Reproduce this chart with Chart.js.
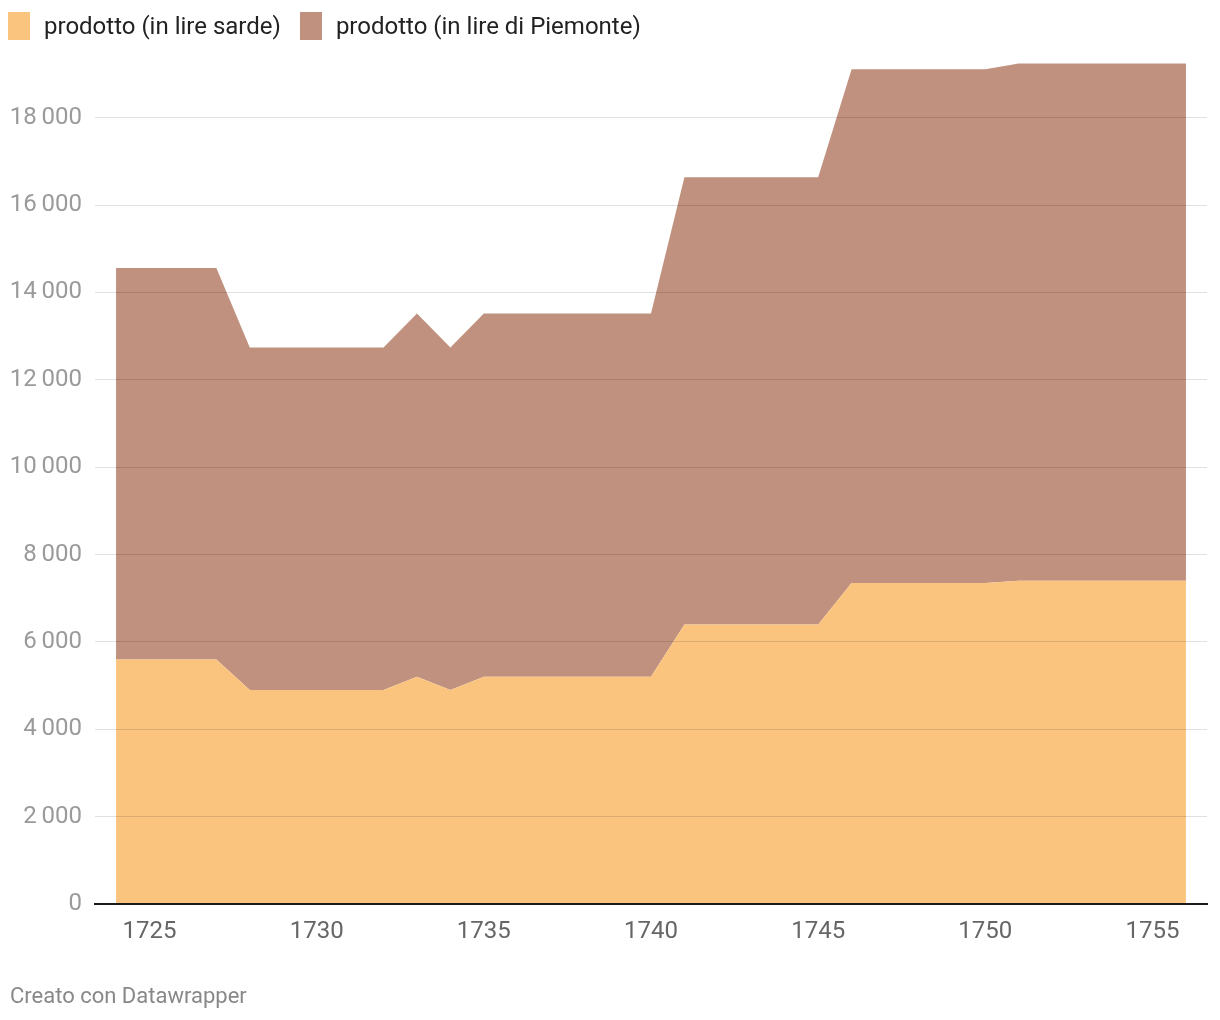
<!DOCTYPE html>
<html>
<head>
<meta charset="utf-8">
<script src="https://cdn.jsdelivr.net/npm/chart.js@4"></script>
<style>
  body { margin: 0; background: #fff; font-family: Roboto, sans-serif; }
  #wrap { position: relative; width: 1220px; height: 1020px; }
  #chart { position: absolute; left: 0; top: 0; }
  .legend { position: absolute; top: 12px; left: 8px; display: flex; font-size: 24px; color: #222; }
  .legend span { display: flex; align-items: center; margin-right: 19px; }
  .legend i { display: inline-block; width: 22px; height: 28px; margin-right: 14px; }
  .footer { position: absolute; left: 10px; top: 983px; font-size: 22px; color: #888; }
</style>
</head>
<body>
<div id="wrap">
  <canvas id="chart" width="1220" height="1020"></canvas>
  <div class="legend">
    <span><i style="background:#fac47e"></i>prodotto (in lire sarde)</span>
    <span><i style="background:#c0917f"></i>prodotto (in lire di Piemonte)</span>
  </div>
  <div class="footer">Creato con Datawrapper</div>
</div>
<script>
const years = [1724, 1725, 1726, 1727, 1728, 1729, 1730, 1731, 1732, 1733, 1734,
  1735, 1736, 1737, 1738, 1739, 1740, 1741, 1742, 1743, 1744, 1745,
  1746, 1747, 1748, 1749, 1750, 1751, 1752, 1753, 1754, 1755, 1756];

const lireSarde = [5600, 5600, 5600, 5600, 4900, 4900, 4900, 4900, 4900, 5200, 4900,
  5200, 5200, 5200, 5200, 5200, 5200, 6400, 6400, 6400, 6400, 6400,
  7350, 7350, 7350, 7350, 7350, 7400, 7400, 7400, 7400, 7400, 7400];

const lirePiemonte = [8960, 8960, 8960, 8960, 7840, 7840, 7840, 7840, 7840, 8320, 7840,
  8320, 8320, 8320, 8320, 8320, 8320, 10240, 10240, 10240, 10240, 10240,
  11760, 11760, 11760, 11760, 11760, 11840, 11840, 11840, 11840, 11840, 11840];

const xTicks = [1725, 1730, 1735, 1740, 1745, 1750, 1755];
const yTicks = [0, 2000, 4000, 6000, 8000, 10000, 12000, 14000, 16000, 18000];

function toPoints(vals) {
  return years.map((y, i) => ({ x: y, y: vals[i] }));
}

new Chart(document.getElementById('chart'), {
  type: 'line',
  data: {
    datasets: [
      {
        label: 'prodotto (in lire sarde)',
        data: toPoints(lireSarde),
        backgroundColor: '#fac47e',
        borderWidth: 0,
        pointRadius: 0,
        fill: 'origin'
      },
      {
        label: 'prodotto (in lire di Piemonte)',
        data: toPoints(lirePiemonte),
        backgroundColor: '#c0917f',
        borderWidth: 0,
        pointRadius: 0,
        fill: '-1'
      }
    ]
  },
  options: {
    responsive: false,
    animation: false,
    layout: { padding: { top: 61, right: 13, bottom: 66, left: 0 } },
    plugins: { legend: { display: false }, tooltip: { enabled: false } },
    scales: {
      x: {
        type: 'linear',
        min: 1723.37,
        max: 1756.63,
        afterBuildTicks: s => { s.ticks = xTicks.map(v => ({ value: v })); },
        afterFit: s => { s.height = 50; },
        grid: { display: false, drawTicks: false },
        border: { display: true, color: '#1a1a1a', width: 2, z: 2 },
        ticks: {
          color: '#666',
          padding: 14,
          font: { family: 'Roboto', size: 24 },
          callback: v => String(v)
        }
      },
      y: {
        stacked: true,
        min: 0,
        max: 19300,
        afterBuildTicks: s => { s.ticks = yTicks.map(v => ({ value: v })); },
        afterFit: s => { s.width = 95; },
        grid: { color: 'rgba(0,0,0,0.12)', lineWidth: 1, drawTicks: false, z: 1 },
        border: { display: false },
        ticks: {
          color: '#9a9a9a',
          padding: 13,
          font: { family: 'Roboto', size: 24 },
          callback: v => String(v).replace(/\B(?=(\d{3})+(?!\d))/g, '\u2009')
        }
      }
    }
  }
});
</script>
</body>
</html>
